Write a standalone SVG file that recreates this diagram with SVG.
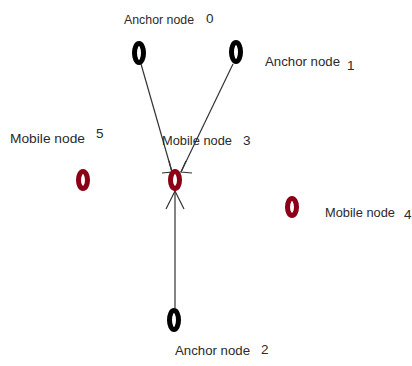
<svg xmlns="http://www.w3.org/2000/svg" width="412" height="366" viewBox="0 0 412 366">
<style>
.lbl{font-family:"Liberation Sans",Arial,sans-serif;font-size:13.5px;fill:#2a2a2a}
.anc{fill:none;stroke:#000;stroke-width:5}
.mob{fill:none;stroke:#8b0016;stroke-width:5}
.edge{fill:none;stroke:#333;stroke-width:1.2}
</style>
<rect width="412" height="366" fill="#fff"/>
<g id="connectors">
<line class="edge" x1="141" y1="64" x2="172" y2="172"/>
<polyline class="edge" points="162,173 172,172 169,161"/>
<line class="edge" x1="233" y1="64" x2="181" y2="172"/>
<polyline class="edge" points="192,173 181,172 186,161"/>
<line class="edge" x1="175" y1="308" x2="175" y2="190"/>
<polyline class="edge" points="166,209 175,191 184,209"/>
</g>
<g id="anchor0">
<ellipse class="anc" cx="139" cy="53" rx="4.5" ry="9.5"/>
<text class="lbl" x="124" y="24" textLength="70" lengthAdjust="spacingAndGlyphs">Anchor node</text>
<text class="lbl" x="206" y="23">0</text>
</g>
<g id="anchor1">
<ellipse class="anc" cx="236" cy="52" rx="4.5" ry="9.5"/>
<text class="lbl" x="265" y="66" textLength="75" lengthAdjust="spacingAndGlyphs">Anchor node</text>
<text class="lbl" x="347" y="70">1</text>
</g>
<g id="anchor2">
<ellipse class="anc" cx="174" cy="320" rx="4.5" ry="9.5"/>
<text class="lbl" x="175" y="355" textLength="75" lengthAdjust="spacingAndGlyphs">Anchor node</text>
<text class="lbl" x="261" y="354">2</text>
</g>
<g id="mobile3">
<ellipse class="mob" cx="175" cy="180" rx="4.5" ry="8.5"/>
<text class="lbl" x="162" y="145" textLength="70" lengthAdjust="spacingAndGlyphs">Mobile node</text>
<text class="lbl" x="243" y="145">3</text>
</g>
<g id="mobile5">
<ellipse class="mob" cx="83" cy="180" rx="4.5" ry="8.5"/>
<text class="lbl" x="10" y="143" textLength="75" lengthAdjust="spacingAndGlyphs">Mobile node</text>
<text class="lbl" x="96" y="138">5</text>
</g>
<g id="mobile4">
<ellipse class="mob" cx="292" cy="207" rx="4.5" ry="8.5"/>
<text class="lbl" x="325" y="217" textLength="70" lengthAdjust="spacingAndGlyphs">Mobile node</text>
<text class="lbl" x="404" y="219">4</text>
</g>
</svg>
